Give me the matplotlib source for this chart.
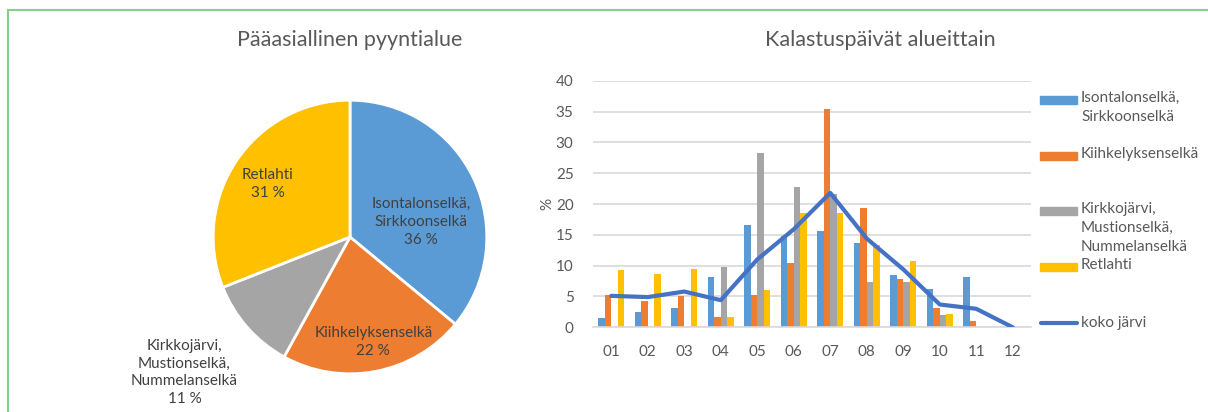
#Imports
import numpy as np
import matplotlib.pyplot as plt
from matplotlib.patches import Rectangle
from matplotlib.lines import Line2D

#Global Declarations
plt.rcParams['font.family'] = ['Lato', 'DejaVu Sans']
txtcol = "#595959"

#Pie data
pie_names = ["Isontalonselkä,\nSirkkoonselkä", "Kiihkelyksenselkä",
             "Kirkkojärvi,\nMustionselkä,\nNummelanselkä", "Retlahti"]
pie_vals = [36, 22, 11, 31]
# label spots (pie data units)
pie_lblpos = [(0.52, 0.11), (0.17, -0.77), (-1.21, -0.99), (-0.60, 0.39)]

#Bar data
months = ["01", "02", "03", "04", "05", "06", "07", "08", "09", "10", "11", "12"]
series_names = ["Isontalonselkä,\nSirkkoonselkä", "Kiihkelyksenselkä",
                "Kirkkojärvi,\nMustionselkä,\nNummelanselkä", "Retlahti"]
isontalo = [1.5, 2.5, 3.2, 8.1, 16.6, 14.8, 15.6, 13.6, 8.5, 6.2, 8.2, 0]
kiihkely = [5.2, 4.2, 5.0, 1.6, 5.2, 10.4, 35.4, 19.4, 7.8, 3.1, 1.0, 0]
kirkko = [0, 0, 0, 9.7, 28.3, 22.8, 21.7, 7.4, 7.4, 2.0, 0, 0]
retlahti = [9.3, 8.65, 9.5, 1.7, 6.05, 18.6, 18.6, 13.4, 10.8, 2.2, 0, 0]
koko = [5.1, 4.9, 5.8, 4.4, 11.0, 15.9, 21.8, 14.4, 9.4, 3.7, 3.0, 0]

colors = ["#5B9BD5", "#ED7D31", "#A5A5A5", "#FFC000"]
linecol = "#4472C4"

W, H = 1208, 412
fig = plt.figure(figsize=(W/100, H/100), dpi=100)

#green frame
fig.patches.append(Rectangle((8/W, -0.1), 1.1, (H-10)/H + 0.1, transform=fig.transFigure,
                             fill=False, edgecolor="#7FD38A", lw=1.5))

#Pie
axp = fig.add_axes([(350-171)/W, (412-408)/H, 342/W, 342/H])
wedges, _ = axp.pie(pie_vals, colors=colors, startangle=90, counterclock=False,
                    wedgeprops=dict(edgecolor="white", linewidth=2))
axp.set_aspect('auto')
axp.set_xlim(-1.25, 1.25)
axp.set_ylim(-1.25, 1.25)
for i in range(len(pie_vals)):
    axp.text(pie_lblpos[i][0], pie_lblpos[i][1], pie_names[i] + "\n" + str(pie_vals[i]) + " %",
             ha="center", va="center", fontsize=11, color="#404040", linespacing=1.35)
fig.text(350/W, 1 - 40/H, "Pääasiallinen pyyntialue", ha="center", va="center",
         fontsize=15.5, color=txtcol)

#Bars
ax = fig.add_axes([593/W, 1 - 327.3/H, 438/W, 246.6/H])
x = np.arange(len(months))
bw = 0.18
allser = [isontalo, kiihkely, kirkko, retlahti]
for i in range(4):
    ax.bar(x + (i - 1.5)*bw, allser[i], width=bw, color=colors[i], zorder=2)
ax.plot(x, koko, color=linecol, lw=3, zorder=3, solid_capstyle="round")
ax.set_xlim(-0.5, 11.5)
ax.set_ylim(0, 40)
ax.set_yticks(range(0, 41, 5))
ax.set_xticks(x)
ax.set_xticklabels(months)
ax.grid(axis="y", color="#D9D9D9", lw=1.2, zorder=0)
for s in ["top", "right", "left"]:
    ax.spines[s].set_visible(False)
ax.spines["bottom"].set_color("#D9D9D9")
ax.spines["bottom"].set_linewidth(1.2)
ax.tick_params(length=0, labelsize=11, labelcolor=txtcol)
ax.tick_params(axis="x", pad=13)
ax.tick_params(axis="y", pad=14)
ax.set_ylabel("%", fontsize=11, color=txtcol, labelpad=1)
fig.text(880/W, 1 - 40/H, "Kalastuspäivät alueittain", ha="center", va="center",
         fontsize=15.5, color=txtcol)

#Legend by hand
leg_y = [100, 156, 211, 267]
for i in range(4):
    fig.patches.append(Rectangle((1040/W, 1 - (leg_y[i] + 4)/H), 37/W, 8/H,
                                 transform=fig.transFigure, color=colors[i]))
    fig.text(1081/W, 1 - (leg_y[i] - 9)/H, series_names[i], ha="left", va="top",
             fontsize=11, color=txtcol, linespacing=1.45)
fig.lines.append(Line2D([1041/W, 1077/W], [1 - 323/H, 1 - 323/H], transform=fig.transFigure,
                        color=linecol, lw=3, solid_capstyle="round"))
fig.text(1081/W, 1 - 323/H, "koko järvi", ha="left", va="center", fontsize=11, color=txtcol)

plt.savefig("out.png", dpi=100)
